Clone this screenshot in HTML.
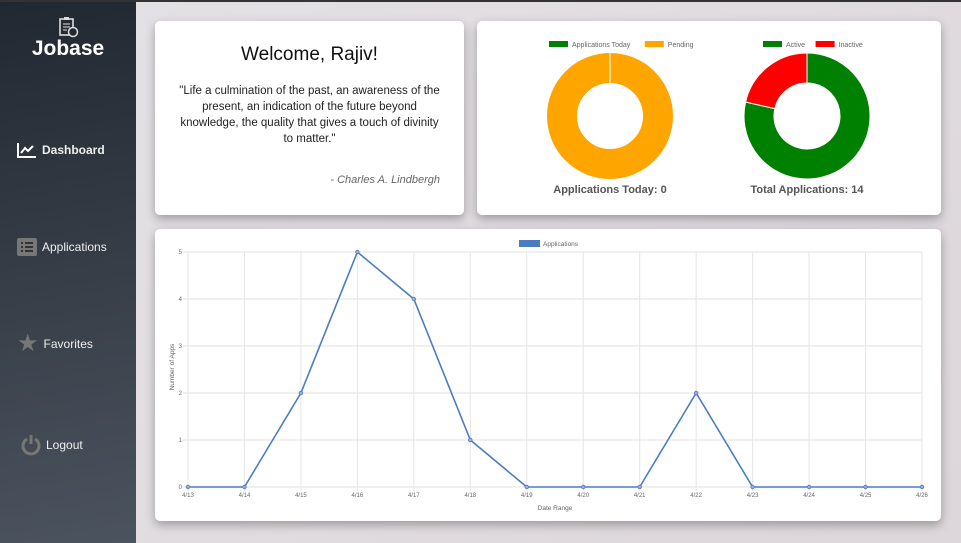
<!DOCTYPE html>
<html><head><meta charset="utf-8"><style>
*{box-sizing:border-box;margin:0;padding:0}
body{width:961px;height:543px;overflow:hidden;font-family:"Liberation Sans",sans-serif;background:linear-gradient(135deg,#e4e2e6,#ddd6da);position:relative}
#side{position:absolute;left:0;top:0;width:136px;height:543px;background:linear-gradient(170deg,#222831,#4b535e);color:#fff}
.nav{position:absolute;left:17px;font-size:12px;display:flex;align-items:center;gap:5px;color:#eee}
.card{position:absolute;background:#fff;border-radius:5px;box-shadow:0 4px 10px rgba(0,0,0,.3)}
</style></head><body>
<div style="position:absolute;left:0;top:0;width:961px;height:2px;background:#333;z-index:5"></div>
<div id="side">
 <svg style="position:absolute;left:57px;top:16px" width="22" height="22" viewBox="0 0 22 22"><rect x="3" y="3" width="13" height="16" fill="none" stroke="#ddd" stroke-width="1.6"/><rect x="7" y="1" width="5" height="3" fill="#ddd"/><circle cx="16" cy="16" r="4.5" fill="#222831" stroke="#ddd" stroke-width="1.5"/><path d="M6 8h7M6 11h7M6 14h4" stroke="#ddd"/></svg>
 <div style="position:absolute;left:0;width:136px;top:37px;text-align:center;font-size:21px;font-weight:bold">Jobase</div>
 <div class="nav" style="top:142px"><svg width="20" height="16" viewBox="0 0 20 16"><path d="M1 1v14h18" stroke="#fff" stroke-width="2" fill="none"/><path d="M4 11l4-5 3 3 5-5" stroke="#fff" stroke-width="2" fill="none"/></svg><span style="font-weight:bold">Dashboard</span></div>
 <div class="nav" style="top:238px"><svg width="20" height="18" viewBox="0 0 20 18"><rect width="20" height="18" rx="2" fill="#777"/><path d="M4 5h2M8 5h8M4 9h2M8 9h8M4 13h2M8 13h8" stroke="#333" stroke-width="2"/></svg><span>Applications</span></div>
 <div class="nav" style="top:334px"><span style="font-size:24px;color:#777;line-height:20px">★</span><span>Favorites</span></div>
 <div class="nav" style="top:434px;left:21px"><svg width="20" height="22" viewBox="0 0 20 22"><path d="M6 5A8 8 0 1 0 14 5" stroke="#777" stroke-width="3" fill="none"/><path d="M10 1v9" stroke="#777" stroke-width="3"/></svg><span>Logout</span></div>
</div>

<div class="card" style="left:155px;top:21px;width:309px;height:194px">
 <div style="text-align:center;margin-top:23px;font-size:19px;color:#111">Welcome, Rajiv!</div>
 <div style="text-align:center;margin:17px 24px 0;font-size:11.5px;line-height:16px;color:#222">"Life a culmination of the past, an awareness of the present, an indication of the future beyond knowledge, the quality that gives a touch of divinity to matter."</div>
 <div style="position:absolute;right:24px;top:153px;font-size:11px;font-style:italic;color:#666">- Charles A. Lindbergh</div>
</div>

<div class="card" style="left:477px;top:21px;width:464px;height:194px">
 <svg id="donuts" width="464" height="194"></svg>
</div>

<div class="card" style="left:155px;top:229px;width:786px;height:292px">
 <svg id="line" width="786" height="292" style="position:absolute;left:0;top:0"></svg>
</div>

<script>
const NS="http://www.w3.org/2000/svg";
function mk(p,t,a){const e=document.createElementNS(NS,t);for(const k in a)e.setAttribute(k,a[k]);p.appendChild(e);return e;}
// donut data
const leftLabels=["Applications Today","Pending"];
const leftValues=[0,5];
const rightLabels=["Active","Inactive"];
const rightValues=[11,3];
const donutColors=["#008000","#ffa500"];
const donutColors2=["#008000","#ff0000"];
const ds=document.getElementById('donuts');
function donut(cx,cy,labels,values,colors,title,lx){
  const tot=values.reduce((a,b)=>a+b,0);let a0=-Math.PI/2;
  const R=63,r=33;
  values.forEach((v,i)=>{
    if(v<=0)return;const a1=a0+v/tot*2*Math.PI;let e;
    if(v===tot){
      e=mk(ds,'circle',{cx:cx,cy:cy,r:(R+r)/2,fill:'none',stroke:colors[i],'stroke-width':R-r});
      mk(ds,'line',{x1:cx,x2:cx,y1:cy-R,y2:cy-r,stroke:'#fff','stroke-width':1});
    } else {
      const L=(a1-a0)>Math.PI?1:0;
      const p=`M${cx+R*Math.cos(a0)} ${cy+R*Math.sin(a0)}A${R} ${R} 0 ${L} 1 ${cx+R*Math.cos(a1)} ${cy+R*Math.sin(a1)}L${cx+r*Math.cos(a1)} ${cy+r*Math.sin(a1)}A${r} ${r} 0 ${L} 0 ${cx+r*Math.cos(a0)} ${cy+r*Math.sin(a0)}Z`;
      e=mk(ds,'path',{d:p,fill:colors[i],stroke:'#fff','stroke-width':1});
    }
    
    
    a0=a1;
  });
  let x=lx;
  labels.forEach((l,i)=>{
    const b=mk(ds,'rect',{x:x,y:20,width:19,height:6,fill:colors[i]});
    
    
    const t=mk(ds,'text',{x:x+23,y:26,'font-size':7,fill:'#666'});t.textContent=l;
    
    
    x+=23+l.length*3.6+8;
  });
  const t=mk(ds,'text',{x:cx,y:172,'font-size':11,'font-weight':'bold',fill:'#555','text-anchor':'middle'});t.textContent=title;
  
  
}
donut(133,95,leftLabels,leftValues,donutColors,"Applications Today: 0",72);
donut(330,95,rightLabels,rightValues,donutColors2,"Total Applications: 14",286);

// line chart data
const dates=["4/13","4/14","4/15","4/16","4/17","4/18","4/19","4/20","4/21","4/22","4/23","4/24","4/25","4/26"];
const apps=[0,0,2,5,4,1,0,0,0,2,0,0,0,0];
const yTicks=[0,1,2,3,4,5];
const ls=document.getElementById('line');
const X0=33,X1=767,Y0=258,Y1=23;
const xs=i=>X0+(X1-X0)*i/(dates.length-1);
const ys=v=>Y0-(Y0-Y1)*v/5;
yTicks.forEach(v=>{
  mk(ls,'line',{x1:X0-5,x2:X1,y1:ys(v),y2:ys(v),stroke:'#e2e2e2'});
  const t=mk(ls,'text',{x:X0-6,y:ys(v)+2,'font-size':6,fill:'#666','text-anchor':'end'});t.textContent=v;
  
  
});
dates.forEach((d,i)=>{
  mk(ls,'line',{x1:xs(i),x2:xs(i),y1:Y1,y2:Y0+4,stroke:'#e6e6e6'});
  const t=mk(ls,'text',{x:xs(i),y:Y0+10,'font-size':6,fill:'#666','text-anchor':'middle'});t.textContent=d;
  
  
});
const pl=mk(ls,'polyline',{points:apps.map((v,i)=>xs(i)+','+ys(v)).join(' '),fill:'none',stroke:'#4a7cc2','stroke-width':1.6,'stroke-linejoin':'round'});


apps.forEach((v,i)=>{
  const c=mk(ls,'circle',{cx:xs(i),cy:ys(v),r:1.8,fill:'#aac',stroke:'#4a7cc2','stroke-width':0.8});
  
  
});
const lb=mk(ls,'rect',{x:364,y:11,width:21,height:7,fill:'#4a7cc2'});


const lt=mk(ls,'text',{x:388,y:17,'font-size':6.5,fill:'#666'});lt.textContent='Applications';


const xt=mk(ls,'text',{x:400,y:281,'font-size':6.5,fill:'#666','text-anchor':'middle'});xt.textContent='Date Range';


const yt=mk(ls,'text',{x:0,y:0,'font-size':6.5,fill:'#666','text-anchor':'middle',transform:'translate(19,138) rotate(-90)'});yt.textContent='Number of Apps';


</script>
</body></html>
